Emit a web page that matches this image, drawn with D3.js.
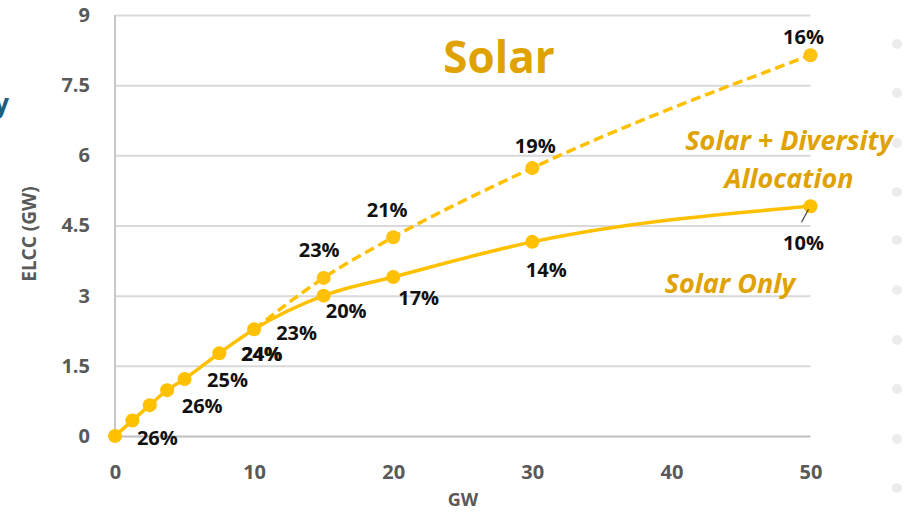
<!DOCTYPE html>
<html>
<head>
<meta charset="utf-8">
<script src="https://cdn.jsdelivr.net/npm/d3@7"></script>
<style>
  html, body { margin: 0; padding: 0; background: #ffffff; }
  svg { display: block; }
</style>
</head>
<body>
<svg id="chart" width="914" height="512"></svg>
<script>
// ---------------- data ----------------
const gwValues       = [0, 1.25, 2.5, 3.75, 5, 7.5, 10, 15, 20, 30, 50];
const solarOnly      = [0, 0.33, 0.66, 0.98, 1.22, 1.77, 2.28, 3.00, 3.40, 4.15, 4.91];
const solarDiversity = [0, 0.33, 0.66, 0.98, 1.22, 1.77, 2.28, 3.38, 4.25, 5.73, 8.14];
const solarOnlyLabels      = ["", "26%", "", "26%", "25%", "24%", "23%", "20%", "17%", "14%", "10%"];
const solarDiversityLabels = ["", "", "", "", "", "", "", "23%", "21%", "19%", "16%"];
const xTickValues = [0, 10, 20, 30, 40, 50];
const yTickValues = [0, 1.5, 3, 4.5, 6, 7.5, 9];
const yTickLabels = ["0", "1.5", "3", "4.5", "6", "7.5", "9"];
const titleText = "Solar";
const xAxisTitle = "GW";
const yAxisTitle = "ELCC (GW)";
const seriesNameDiversity = ["Solar + Diversity", "Allocation"];
const seriesNameOnly = "Solar Only";

// ---------------- layout / style ----------------
const FONT = "'Open Sans', 'DejaVu Sans', sans-serif";
const LINE_COLOR = "#FFC000";
const ANNOT_COLOR = "#E0A200";
const TEXT_GRAY = "#595959";
// label offsets (px) from each point centre to label centre
const onlyOffsets = [null, [25, 17], null, [35, 16], [43, 1], [42, 0.5], [42.5, 3], [22.5, 15.5], [25.5, 20.5], [14, 27.7], [-7, 36]];
const divOffsets  = [null, null, null, null, null, null, null, [-4.5, -28], [-6, -27.5], [3, -22], [-7, -18]];

const svg = d3.select("#chart");
const x = d3.scaleLinear().domain([0, 50]).range([115, 810.5]);
const y = d3.scaleLinear().domain([0, 9]).range([436, 15]);

// decorative faint dots at right edge of slide
const decoDots = [44, 93, 143, 192, 240, 290, 340, 389, 439, 488];
svg.append("g").selectAll("circle").data(decoDots).join("circle")
  .attr("cx", 897).attr("cy", d => d).attr("r", 5).attr("fill", "#ececec");

// partial slide text at left edge (cut off in the source slide)
svg.append("text").attr("x", 9).attr("y", 113).attr("text-anchor", "end")
  .attr("font-family", FONT).attr("font-weight", 700).attr("font-size", 26)
  .attr("fill", "#1d5f7d").text("y");

// y axis with gridlines
const yAxis = d3.axisLeft(y).tickValues(yTickValues)
  .tickFormat((d, i) => yTickLabels[i])
  .tickSize(-(x(50) - x(0))).tickPadding(25);
const gy = svg.append("g").attr("transform", `translate(${x(0)},0)`).call(yAxis);
gy.select(".domain").remove();
gy.selectAll(".tick line").attr("stroke", d => d === 0 ? "#bfbfbf" : "#d9d9d9").attr("stroke-width", 2);
gy.selectAll(".tick text").attr("font-family", FONT).attr("font-weight", 700)
  .attr("font-size", 20).attr("fill", TEXT_GRAY);

// left axis line
svg.append("line").attr("x1", x(0)).attr("x2", x(0)).attr("y1", y(9)).attr("y2", y(0))
  .attr("stroke", "#c8c8c8").attr("stroke-width", 2);

// x axis
const xAxis = d3.axisBottom(x).tickValues(xTickValues).tickSize(0).tickPadding(29);
const gx = svg.append("g").attr("transform", `translate(0,${y(0)})`).call(xAxis);
gx.select(".domain").remove();
gx.selectAll(".tick text").attr("font-family", FONT).attr("font-weight", 700)
  .attr("font-size", 20).attr("fill", TEXT_GRAY);

// axis titles
svg.append("text").attr("x", 463).attr("y", 506).attr("text-anchor", "middle")
  .attr("font-family", FONT).attr("font-weight", 700).attr("font-size", 18)
  .attr("fill", TEXT_GRAY).text(xAxisTitle);
svg.append("text").attr("transform", "translate(36,234) rotate(-90)").attr("text-anchor", "middle")
  .attr("font-family", FONT).attr("font-weight", 700).attr("font-size", 19)
  .attr("fill", TEXT_GRAY).text(yAxisTitle);

// lines
const line = d3.line().x(d => x(d[0])).y(d => y(d[1])).curve(d3.curveMonotoneX);
const divPts = gwValues.map((g, i) => [g, solarDiversity[i]]);
const onlyPts = gwValues.map((g, i) => [g, solarOnly[i]]);

svg.append("path").datum(divPts.slice(6)).attr("d", line)
  .attr("fill", "none").attr("stroke", LINE_COLOR).attr("stroke-width", 3.5)
  .attr("stroke-dasharray", "10,5");
svg.append("path").datum(onlyPts).attr("d", line)
  .attr("fill", "none").attr("stroke", LINE_COLOR).attr("stroke-width", 3.5);

// markers
svg.append("g").selectAll("circle").data(divPts.slice(7)).join("circle")
  .attr("cx", d => x(d[0])).attr("cy", d => y(d[1])).attr("r", 7).attr("fill", "#FFC20E");
svg.append("g").selectAll("circle").data(onlyPts).join("circle")
  .attr("cx", d => x(d[0])).attr("cy", d => y(d[1])).attr("r", 7).attr("fill", LINE_COLOR);

// leader line for 10%
svg.append("line").attr("x1", x(50) - 2).attr("y1", y(4.91) + 3)
  .attr("x2", x(50) - 9).attr("y2", y(4.91) + 16).attr("stroke", "#404040").attr("stroke-width", 1.2);

// data labels
function addLabels(pts, labels, offs) {
  pts.forEach((p, i) => {
    if (!labels[i]) return;
    // "24%" appears doubled (overlapping labels) in the source, so it is drawn twice
    const copies = labels[i] === "24%" ? [0, 0.8] : [0];
    copies.forEach(sh => {
      svg.append("text")
        .attr("x", x(p[0]) + offs[i][0] + sh).attr("y", y(p[1]) + offs[i][1])
        .attr("dy", "0.36em").attr("text-anchor", "middle")
        .attr("font-family", FONT).attr("font-weight", 700).attr("font-size", 20)
        .attr("fill", "#111111").text(labels[i]);
    });
  });
}
addLabels(onlyPts, solarOnlyLabels, onlyOffsets);
addLabels(divPts, solarDiversityLabels, divOffsets);

// title
svg.append("text").attr("x", 499).attr("y", 73).attr("text-anchor", "middle")
  .attr("font-family", FONT).attr("font-weight", 700).attr("font-size", 44)
  .attr("fill", ANNOT_COLOR).text(titleText);

// series annotations
svg.append("text").attr("x", 789).attr("y", 150).attr("text-anchor", "middle")
  .attr("font-family", FONT).attr("font-weight", 700).attr("font-style", "italic")
  .attr("font-size", 27).attr("fill", ANNOT_COLOR).text(seriesNameDiversity[0]);
svg.append("text").attr("x", 789).attr("y", 188).attr("text-anchor", "middle")
  .attr("font-family", FONT).attr("font-weight", 700).attr("font-style", "italic")
  .attr("font-size", 27).attr("fill", ANNOT_COLOR).text(seriesNameDiversity[1]);
svg.append("text").attr("x", 730).attr("y", 293).attr("text-anchor", "middle")
  .attr("font-family", FONT).attr("font-weight", 700).attr("font-style", "italic")
  .attr("font-size", 27).attr("fill", ANNOT_COLOR).text(seriesNameOnly);
</script>
</body>
</html>
